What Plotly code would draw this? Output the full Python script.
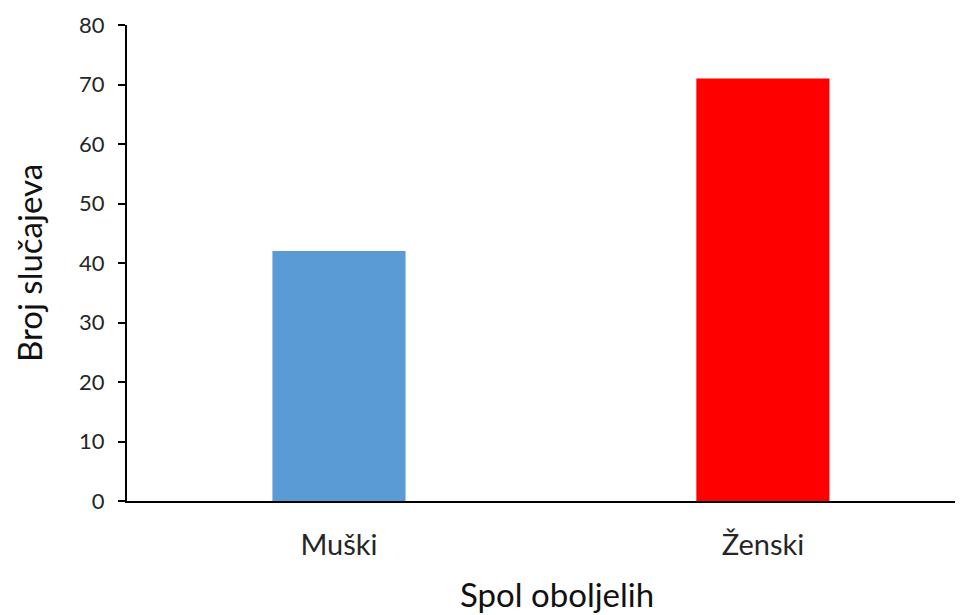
import plotly.graph_objects as go

categories = ["Muški", "Ženski"]
values = [42, 71]
colors = ["#5B9BD5", "#FF0000"]
y_ticks = [0, 10, 20, 30, 40, 50, 60, 70, 80]
x_title = "Spol oboljelih"
y_title = "Broj slučajeva"

fig = go.Figure()
fig.add_trace(go.Bar(
    x=[0, 1], y=values, marker=dict(color=colors, line=dict(width=0)),
    width=0.314,
))

font_family = "Lato, Open Sans, sans-serif"
fig.update_layout(
    width=955, height=607,
    margin=dict(l=119, r=0, t=17, b=114),
    paper_bgcolor="white", plot_bgcolor="white",
    showlegend=False,
    font=dict(family=font_family, color="#222222"),
    xaxis=dict(
        range=[-0.5, 1.472],
        tickvals=[0, 1], ticktext=categories,
        showline=True, linecolor="black", linewidth=2,
        ticks="", showgrid=False, zeroline=False,
        automargin=False,
        ticklabelstandoff=17,
        tickfont=dict(size=29, color="#262626"),
    ),
    yaxis=dict(
        range=[0, 80], tickvals=y_ticks,
        showline=True, linecolor="black", linewidth=2,
        ticks="outside", ticklen=7, tickwidth=2, tickcolor="black",
        showgrid=False, zeroline=False,
        automargin=False,
        ticklabelstandoff=9,
        tickfont=dict(size=22, color="#262626"),
        title=dict(text=y_title, font=dict(size=33, color="#111111"), standoff=27),
    ),
    annotations=[dict(
        text=x_title, xref="paper", yref="paper", x=0.514, y=0,
        xanchor="center", yanchor="middle", yshift=-93, showarrow=False,
        font=dict(size=33, color="#111111"),
    )],
)

fig.write_html("out.html")
